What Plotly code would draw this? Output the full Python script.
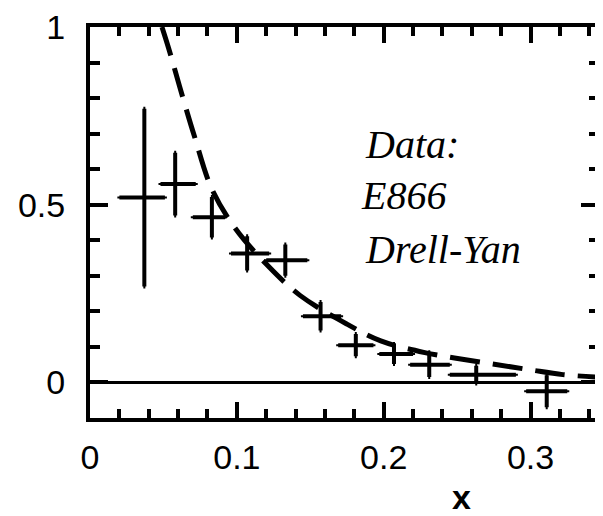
import plotly.graph_objects as go

# Data points (E866 Drell-Yan)
x_pts = [0.037, 0.058, 0.083, 0.107, 0.133, 0.157, 0.181, 0.207, 0.231, 0.263, 0.311]
y_pts = [0.52, 0.558, 0.465, 0.363, 0.344, 0.186, 0.105, 0.080, 0.050, 0.022, -0.025]
y_err = [0.25, 0.088, 0.057, 0.048, 0.044, 0.040, 0.031, 0.028, 0.035, 0.025, 0.045]
x_lo = [0.020, 0.048, 0.070, 0.096, 0.120, 0.145, 0.169, 0.197, 0.218, 0.245, 0.297]
x_hi = [0.051, 0.072, 0.092, 0.122, 0.148, 0.171, 0.193, 0.220, 0.245, 0.290, 0.325]

# Dashed model curve
x_curve = [0.049, 0.054, 0.061, 0.071, 0.083, 0.099, 0.120, 0.143, 0.175, 0.198, 0.228, 0.268, 0.299, 0.322, 0.3466]
y_curve = [1.0, 0.934, 0.833, 0.694, 0.544, 0.433, 0.333, 0.245, 0.164, 0.117, 0.084, 0.056, 0.036, 0.022, 0.015]

x_ticks = [0, 0.1, 0.2, 0.3]
x_tick_labels = ["0", "0.1", "0.2", "0.3"]
y_ticks = [0, 0.5, 1]
y_tick_labels = ["0", "0.5", "1"]

fig = go.Figure()

fig.add_trace(go.Scatter(
    x=x_curve, y=y_curve, mode="lines",
    line=dict(color="black", width=5, dash="30px,13px", shape="spline"),
    showlegend=False, hoverinfo="skip",
))

fig.add_trace(go.Scatter(
    x=x_pts, y=y_pts, mode="markers",
    marker=dict(size=1, color="black"),
    error_y=dict(type="data", array=y_err, color="black", thickness=4, width=1),
    error_x=dict(type="data", symmetric=False,
                 array=[h - c for h, c in zip(x_hi, x_pts)],
                 arrayminus=[c - l for c, l in zip(x_pts, x_lo)],
                 color="black", thickness=4, width=1),
    showlegend=False,
))

tickfont = dict(family="Liberation Sans, Arial, sans-serif", size=34, color="black")

fig.update_layout(
    width=595, height=508,
    margin=dict(l=82, r=0, t=14, b=98),
    paper_bgcolor="white", plot_bgcolor="white",
    xaxis=dict(
        range=[0, 0.3466], tickvals=x_ticks, ticktext=x_tick_labels,
        ticks="inside", ticklen=16, tickwidth=4, tickcolor="black",
        minor=dict(dtick=0.02, tick0=0, ticks="inside", ticklen=9, tickwidth=4, tickcolor="black"),
        showline=True, linewidth=4, linecolor="black", mirror="ticks",
        showgrid=False, zeroline=False, tickfont=tickfont, ticklabelstandoff=6,
        ticklabeloverflow="allow",
    ),
    yaxis=dict(
        range=[-0.1, 1.0], tickvals=y_ticks, ticktext=y_tick_labels,
        ticks="inside", ticklen=18, tickwidth=4, tickcolor="black",
        minor=dict(dtick=0.1, tick0=0, ticks="inside", ticklen=10, tickwidth=4, tickcolor="black"),
        showline=True, linewidth=4, linecolor="black", mirror="ticks",
        showgrid=False, zeroline=True, zerolinewidth=3, zerolinecolor="black",
        tickfont=tickfont, ticklabelstandoff=14, ticklabeloverflow="allow",
    ),
    annotations=[
        dict(x=0.253, y=-0.255, xref="x", yref="paper", text="<b>x</b>", showarrow=False,
             font=dict(family="Liberation Sans, Arial, sans-serif", size=34, color="black")),
        dict(x=0.186, y=0.67, xref="x", yref="y", xanchor="left", text="<i>Data:</i>", showarrow=False,
             font=dict(family="Liberation Serif, serif", size=40, color="black")),
        dict(x=0.183, y=0.525, xref="x", yref="y", xanchor="left", text="<i>E866</i>", showarrow=False,
             font=dict(family="Liberation Serif, serif", size=40, color="black")),
        dict(x=0.186, y=0.375, xref="x", yref="y", xanchor="left", text="<i>Drell-Yan</i>", showarrow=False,
             font=dict(family="Liberation Serif, serif", size=40, color="black")),
    ],
)

fig.write_html("out.html")
